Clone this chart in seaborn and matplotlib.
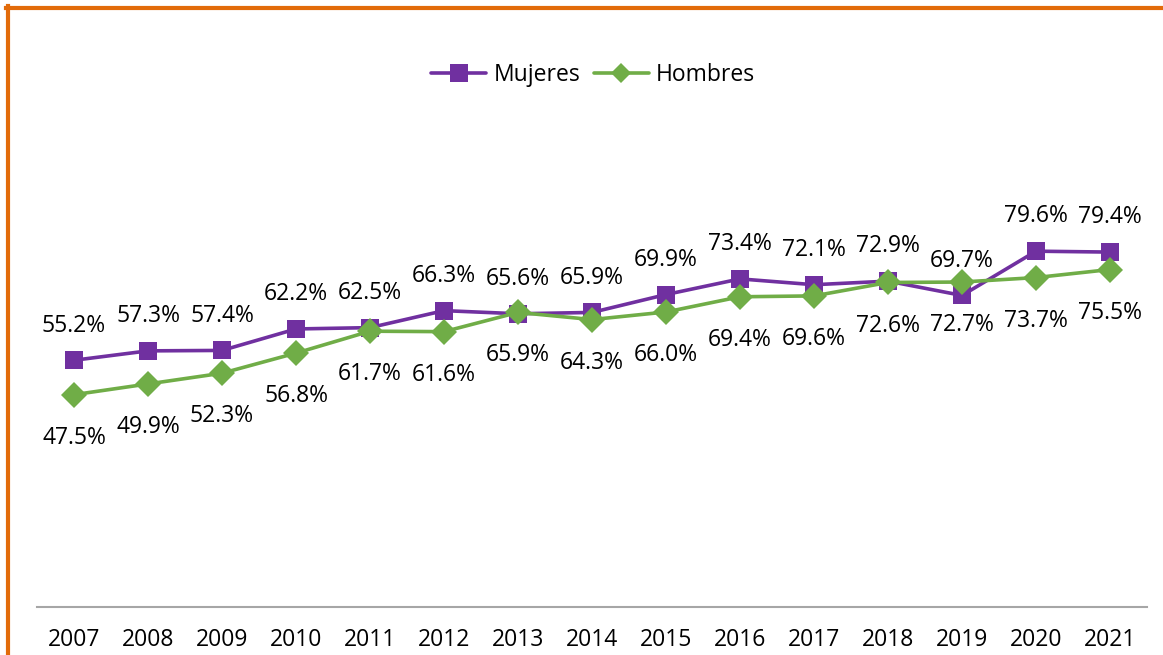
import matplotlib
matplotlib.use("Agg")
import matplotlib.pyplot as plt
from matplotlib.lines import Line2D
import pandas as pd
import seaborn as sns

years = [2007, 2008, 2009, 2010, 2011, 2012, 2013, 2014, 2015, 2016, 2017, 2018, 2019, 2020, 2021]
mujeres = [55.2, 57.3, 57.4, 62.2, 62.5, 66.3, 65.6, 65.9, 69.9, 73.4, 72.1, 72.9, 69.7, 79.6, 79.4]
hombres = [47.5, 49.9, 52.3, 56.8, 61.7, 61.6, 65.9, 64.3, 66.0, 69.4, 69.6, 72.6, 72.7, 73.7, 75.5]

sns.set_theme(style="white")
plt.rcParams['font.family'] = ['Open Sans', 'DejaVu Sans']

df = pd.DataFrame({
    "pos": list(range(len(years))) * 2,
    "valor": mujeres + hombres,
    "serie": ["Mujeres"] * len(years) + ["Hombres"] * len(years),
})

fig = plt.figure(figsize=(11.63, 6.55), dpi=100)
ax = fig.add_axes([37 / 1163, 48 / 655, 1110 / 1163, 447 / 655])

purple = "#7030A0"
green = "#70AD47"
fs = 16.5

sns.lineplot(data=df, x="pos", y="valor", hue="serie", style="serie",
             palette={"Mujeres": purple, "Hombres": green},
             markers={"Mujeres": "s", "Hombres": "D"}, dashes=False,
             markersize=13, markeredgewidth=0, linewidth=2.6, ax=ax, legend=False)

for i, v in enumerate(mujeres):
    ax.annotate(f"{v:.1f}%", (i, v), xytext=(0, 25), textcoords="offset points",
                ha="center", va="center", fontsize=fs, color="black")
for i, v in enumerate(hombres):
    ax.annotate(f"{v:.1f}%", (i, v), xytext=(0, -31), textcoords="offset points",
                ha="center", va="center", fontsize=fs, color="black")

ax.set_xlim(-0.5, len(years) - 0.5)
ax.set_ylim(0, 100)
ax.set_xticks(range(len(years)))
ax.set_xticklabels([str(y) for y in years], fontsize=fs, color="black")
ax.set_yticks([])
ax.tick_params(axis="x", length=0, pad=15)
ax.set_xlabel("")
ax.set_ylabel("")
for s in ["top", "right", "left"]:
    ax.spines[s].set_visible(False)
ax.spines["bottom"].set_color("#A6A6A6")
ax.spines["bottom"].set_linewidth(1.5)

handles = [
    Line2D([], [], color=purple, marker="s", markersize=13, markeredgewidth=0, linewidth=2.6),
    Line2D([], [], color=green, marker="D", markersize=10, markeredgewidth=0, linewidth=2.6),
]
leg = fig.legend(handles, ["Mujeres", "Hombres"], loc="center", bbox_to_anchor=(0.51, 1 - 75 / 655),
                 ncol=2, frameon=False, fontsize=fs, handlelength=2.4, handletextpad=0.3,
                 columnspacing=0.6)
for t in leg.get_texts():
    t.set_color("black")

orange = "#E26B0A"
fig.add_artist(Line2D([7.5 / 1163, 7.5 / 1163], [0, 1 - 6 / 655], color=orange,
                      linewidth=3, transform=fig.transFigure, solid_capstyle="projecting"))
fig.add_artist(Line2D([6 / 1163, 1], [1 - 7.5 / 655, 1 - 7.5 / 655], color=orange,
                      linewidth=3, transform=fig.transFigure, solid_capstyle="projecting"))

fig.savefig("out.png", dpi=100)
